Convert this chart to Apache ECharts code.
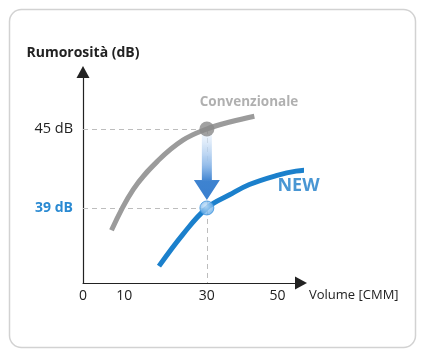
<!DOCTYPE html>
<html><head><meta charset="utf-8">
<script src="https://cdn.jsdelivr.net/npm/echarts@6/dist/echarts.min.js"></script>
<style>html,body{margin:0;padding:0;background:#fff}#c{width:425px;height:358px}</style>
</head><body><div id="c"></div>
<script>
// Data
const xTickValues = [0, 10, 30, 50];
const yTickValues = [39, 45];
const yTickLabels = ['39 dB', '45 dB'];
const conventional = [[6.9,37.3],[12.15,40.4],[18.2,42.6],[24.2,44.15],[30,45],[35.8,45.55],[41.5,45.97]];
const newSeries = [[18.4,34.58],[24.2,37.0],[30,39],[35.5,40.0],[40.3,40.78],[46.8,41.46],[51.6,41.8],[56.8,41.92]];
const conventionalPoint = [[30, 45]];
const newPoint = [[30, 39]];
const arrowData = [[30, 45, 39]];
const seriesNames = ['Convenzionale', 'NEW'];
const nameAnchors = [[40.2, 47.05], [52.2, 40.67]];

const chart = echarts.init(document.getElementById('c'));
const guide = {color:'#bdbdbd', width:1, type:[5,4]};
chart.setOption({
  animation:false,
  graphic:[{type:'rect', shape:{x:9.5,y:9.5,width:406,height:338,r:12}, style:{fill:'none', stroke:'#d2d2d2', lineWidth:1.5}, z:-10}],
  grid:{left:83, top:72, right:124, bottom:75},
  xAxis:{type:'value', min:0, max:52.8,
    name:'Volume [CMM]', nameLocation:'end', nameGap:8,
    nameTextStyle:{color:'#222', fontSize:13, fontFamily:'Open Sans', verticalAlign:'top', align:'left', padding:[6,0,0,0]},
    axisLine:{show:true, lineStyle:{color:'#222', width:1}, symbol:['none','triangle'], symbolSize:[13,12], symbolOffset:[0,0]},
    axisTick:{show:false}, splitLine:{show:false},
    axisLabel:{customValues:xTickValues, color:'#222', fontSize:14, fontFamily:'Open Sans', margin:6,
      formatter:v => v===50 ? '{s|50}' : String(v),
      rich:{s:{fontSize:14, fontFamily:'Open Sans', color:'#222', padding:[0,24,0,0]}}}
  },
  yAxis:{type:'value', min:33.3, max:49.33,
    name:'Rumorosità (dB)', nameLocation:'end', nameGap:12,
    nameTextStyle:{color:'#222', fontSize:14, fontWeight:'bold', fontFamily:'Open Sans', align:'center'},
    axisLine:{show:true, lineStyle:{color:'#222', width:1.2}, symbol:['none','triangle'], symbolSize:[13,12]},
    axisTick:{show:false}, splitLine:{show:false},
    axisLabel:{customValues:yTickValues, margin:10,
      formatter:v => v===45 ? '{a|'+yTickLabels[1]+'}' : '{b|'+yTickLabels[0]+'}',
      rich:{a:{color:'#222', fontSize:14.5, fontFamily:'Open Sans'}, b:{color:'#2a8ad2', fontSize:14, fontWeight:'bold', fontFamily:'Open Sans'}}}
  },
  series:[
    {type:'line', data:conventional, smooth:0.4, showSymbol:false, clip:false,
     lineStyle:{color:'#9b9b9b', width:5, cap:'butt'}, z:3,
     markLine:{silent:true, symbol:'none', label:{show:false}, lineStyle:guide, z:1,
       data:[[{coord:[0,45]},{coord:[30,45]}],[{coord:[30,45]},{coord:[30,33.3]}]]}},
    {type:'line', data:newSeries, smooth:0.4, showSymbol:false, clip:false,
     lineStyle:{color:'#1b80cc', width:5, cap:'butt'}, z:3,
     markLine:{silent:true, symbol:'none', label:{show:false}, lineStyle:guide, z:1,
       data:[[{coord:[0,39]},{coord:[30,39]}]]}},
    {type:'custom', data:arrowData, z:4, clip:false,
     renderItem:(params, api) => {
       const t = api.coord([api.value(0), api.value(1)]);
       const b = api.coord([api.value(0), api.value(2)]);
       const x = t[0], y0 = t[1] + 5, tip = b[1] - 8, hb = tip - 20;
       return {type:'polygon',
         shape:{points:[[x-5,y0],[x+5,y0],[x+5,hb],[x+13,hb],[x,tip],[x-13,hb],[x-5,hb]]},
         style:{fill:new echarts.graphic.LinearGradient(0,0,0,1,[
           {offset:0,color:'rgba(230,240,252,0.6)'},{offset:0.5,color:'#8db8e8'},{offset:0.72,color:'#3e83d0'},{offset:1,color:'#3a7fcf'}])}};
     }},
    {type:'scatter', data:conventionalPoint, symbolSize:15, z:5,
     itemStyle:{color:'#8a8a8a'}},
    {type:'scatter', data:newPoint, symbolSize:14, z:5,
     itemStyle:{color:new echarts.graphic.RadialGradient(0.45,0.4,0.6,[{offset:0,color:'#cfe6fb'},{offset:1,color:'#5aa6e6'}]), borderColor:'#3f93dc', borderWidth:1}},
    {type:'scatter', data:[nameAnchors[0]], symbolSize:0, z:6, clip:false,
     label:{show:true, position:'inside', formatter:seriesNames[0], color:'#9c9c9c', fontSize:13.5, fontWeight:'bold', fontFamily:'Open Sans'}},
    {type:'scatter', data:[nameAnchors[1]], symbolSize:0, z:6, clip:false,
     label:{show:true, position:'inside', formatter:seriesNames[1], color:'#1b7cc8', fontSize:18, fontWeight:'bold', fontFamily:'Open Sans'}}
  ]
});
</script></body></html>
